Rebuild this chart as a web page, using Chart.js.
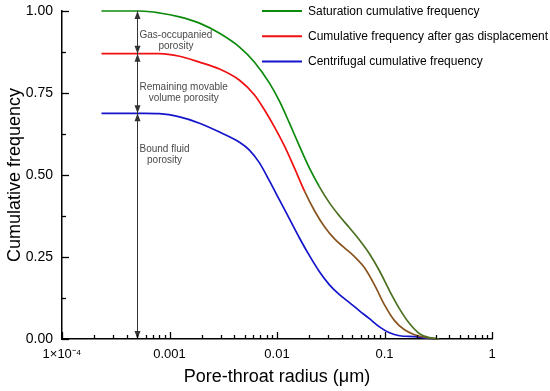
<!DOCTYPE html>
<html><head><meta charset="utf-8">
<script src="https://cdn.jsdelivr.net/npm/chart.js@4/dist/chart.umd.min.js"></script>
<style>html,body{margin:0;padding:0;background:#fff}#wrap{width:550px;height:391px}</style>
</head><body><div id="wrap"><canvas id="c" width="550" height="391"></canvas></div>
<script>
// ---- data ----
const seriesLabels = ['Saturation cumulative frequency','Cumulative frequency after gas displacement','Centrifugal cumulative frequency'];
const greenR = [0.000233,0.000526,0.000807,0.00124,0.0019,0.00292,0.00448,0.00618,0.00851,0.01054,0.01306,0.01618,0.02004,0.02483,0.03076,0.03811,0.04721,0.05848,0.07244,0.08974,0.1114,0.138,0.171,0.2118,0.2624,0.32];
const greenV = [1,1,0.994,0.982,0.963,0.932,0.890,0.844,0.780,0.725,0.658,0.588,0.521,0.464,0.415,0.375,0.339,0.302,0.260,0.208,0.147,0.092,0.047,0.016,0.004,0];
const redR = [0.000233,0.000652,0.000807,0.00124,0.0019,0.00292,0.00448,0.00618,0.00766,0.00948,0.01175,0.01455,0.01803,0.02233,0.02767,0.03428,0.04246,0.0526,0.06516,0.08072,0.1,0.1239,0.1535,0.1901,0.246,0.32];
const redV = [0.87,0.87,0.870,0.862,0.844,0.823,0.789,0.744,0.698,0.646,0.588,0.521,0.451,0.391,0.342,0.305,0.278,0.251,0.217,0.165,0.104,0.056,0.028,0.013,0.004,0];
const blueR = [0.000233,0.000585,0.000807,0.00124,0.0019,0.00292,0.00448,0.00554,0.00687,0.00851,0.01054,0.01306,0.01618,0.02004,0.02483,0.03076,0.03811,0.04721,0.05848,0.07244,0.08974,0.1114,0.138,0.1901,0.2624,0.32];
const blueV = [0.688,0.688,0.687,0.677,0.658,0.631,0.600,0.576,0.537,0.482,0.424,0.366,0.308,0.254,0.205,0.165,0.135,0.111,0.086,0.062,0.037,0.019,0.010,0.007,0.002,0];
const xTickValues = [0.0001,0.001,0.01,0.1,1];
const xTickLabels = ['1×10⁻⁴','0.001','0.01','0.1','1'];
const yTickValues = [0,0.25,0.5,0.75,1];
const yMinorValues = [0.125,0.375,0.625,0.875];
const arrowX = 0.0005;
const arrowLevels = [1.0,0.87,0.688,0.0];
const notes = [
  {lines:['Gas-occupanied','porosity'], y:0.909},
  {lines:['Remaining movable','volume porosity'], y:0.752},
  {lines:['Bound fluid','porosity'], y:0.562}
];
const zip = (r,v)=>r.map((x,i)=>({x:x,y:v[i]}));
const FONT = '"Liberation Sans", Arial, sans-serif';

const inwardTicks = {
  id:'inwardTicks',
  afterDraw(chart){
    const ctx=chart.ctx, xs=chart.scales.x, ys=chart.scales.y, ca=chart.chartArea;
    ctx.save(); ctx.strokeStyle='#000'; ctx.lineWidth=1.3;
    xTickValues.forEach((d,i)=>{
      const px=Math.round(xs.getPixelForValue(d))+0.5;
      ctx.beginPath(); ctx.moveTo(px,ca.bottom); ctx.lineTo(px,ca.bottom-7); ctx.stroke();
      if(i<xTickValues.length-1){
        for(let m=2;m<=9;m++){
          const p=Math.round(xs.getPixelForValue(d*m))+0.5;
          ctx.beginPath(); ctx.moveTo(p,ca.bottom); ctx.lineTo(p,ca.bottom-4); ctx.stroke();
        }
      }
    });
    yTickValues.forEach(v=>{
      const py=Math.round(ys.getPixelForValue(v))+0.5;
      ctx.beginPath(); ctx.moveTo(ca.left,py); ctx.lineTo(ca.left+7,py); ctx.stroke();
    });
    yMinorValues.forEach(v=>{
      const py=Math.round(ys.getPixelForValue(v))+0.5;
      ctx.beginPath(); ctx.moveTo(ca.left,py); ctx.lineTo(ca.left+4,py); ctx.stroke();
    });
    ctx.restore();
  }
};

const annot = {
  id:'annot',
  afterDatasetsDraw(chart){
    const ctx=chart.ctx, xs=chart.scales.x, ys=chart.scales.y;
    const ax=Math.round(xs.getPixelForValue(arrowX))+0.5;
    ctx.save();
    ctx.strokeStyle='#333'; ctx.fillStyle='#333'; ctx.lineWidth=1;
    const top=ys.getPixelForValue(arrowLevels[0]), bot=ys.getPixelForValue(arrowLevels[arrowLevels.length-1]);
    ctx.beginPath(); ctx.moveTo(ax,top); ctx.lineTo(ax,bot); ctx.stroke();
    const head=(y,dir)=>{
      ctx.beginPath(); ctx.moveTo(ax,y); ctx.lineTo(ax-3,y-dir*8); ctx.lineTo(ax+3,y-dir*8); ctx.closePath(); ctx.fill();
    };
    arrowLevels.forEach((lv,i)=>{
      const py=ys.getPixelForValue(lv);
      if(i<arrowLevels.length-1) head(py,-1);
      if(i>0) head(py,1);
    });
    ctx.fillStyle='#4a4a4a'; ctx.font='10px '+FONT; ctx.textBaseline='middle'; ctx.textAlign='center';
    notes.forEach(n=>{
      const w=Math.max(...n.lines.map(l=>ctx.measureText(l).width));
      const cx=ax+2+w/2, cy=ys.getPixelForValue(n.y);
      n.lines.forEach((l,i)=>ctx.fillText(l,cx,cy+(i-(n.lines.length-1)/2)*11));
    });
    ctx.font='12px '+FONT; ctx.textAlign='left';
    chart.data.datasets.forEach((ds,i)=>{
      const y=11+i*25.3;
      ctx.strokeStyle=ds.borderColor; ctx.lineWidth=2;
      ctx.beginPath(); ctx.moveTo(262,y); ctx.lineTo(302,y); ctx.stroke();
      ctx.fillStyle='#000'; ctx.fillText(ds.label,308,y+0.5);
    });
    ctx.restore();
  }
};

const seg = (dark)=>({borderColor:c=>(c.p1.parsed.y<0.42 ? dark : undefined)});

new Chart(document.getElementById('c'),{
  type:'line',
  data:{datasets:[
    {label:seriesLabels[0],data:zip(greenR,greenV),borderColor:'#0c8a0c',borderWidth:1.7,pointRadius:0,cubicInterpolationMode:'monotone',segment:seg('#4a7020')},
    {label:seriesLabels[1],data:zip(redR,redV),borderColor:'#f01010',borderWidth:1.7,pointRadius:0,cubicInterpolationMode:'monotone',segment:seg('#8a5420')},
    {label:seriesLabels[2],data:zip(blueR,blueV),borderColor:'#1414cc',borderWidth:1.7,pointRadius:0,cubicInterpolationMode:'monotone'}
  ]},
  options:{
    responsive:false, animation:false, clip:false,
    layout:{padding:{left:0,right:58,top:11,bottom:0}},
    plugins:{legend:{display:false},tooltip:{enabled:false}},
    scales:{
      x:{type:'logarithmic',min:0.0001,max:1,
        grid:{display:false,drawTicks:false},
        border:{display:true,color:'#000',width:1.5},
        afterBuildTicks:s=>{s.ticks=xTickValues.map(v=>({value:v}));},
        ticks:{autoSkip:false,maxRotation:0,padding:8,color:'#000',font:{family:FONT,size:13},
          callback:(v)=>{const i=xTickValues.findIndex(t=>Math.abs(Math.log10(t)-Math.log10(v))<1e-6);return i>=0?xTickLabels[i]:'';}},
        title:{display:true,text:'Pore-throat radius (μm)',color:'#000',font:{family:FONT,size:18},padding:{top:4,bottom:3}},
        afterFit:s=>{s.height=52; s.paddingLeft=0; s.paddingRight=0;}
      },
      y:{min:0,max:1,
        grid:{display:false,drawTicks:false},
        border:{display:true,color:'#000',width:1.5},
        afterBuildTicks:s=>{s.ticks=yTickValues.map(v=>({value:v}));},
        ticks:{padding:9,color:'#000',font:{family:FONT,size:14},callback:v=>v.toFixed(2)},
        title:{display:true,text:'Cumulative frequency',color:'#000',font:{family:FONT,size:18},padding:{top:4,bottom:4}},
        afterFit:s=>{s.width=62; s.paddingTop=0; s.paddingBottom=0;}
      }
    }
  },
  plugins:[inwardTicks,annot]
});
</script></body></html>
